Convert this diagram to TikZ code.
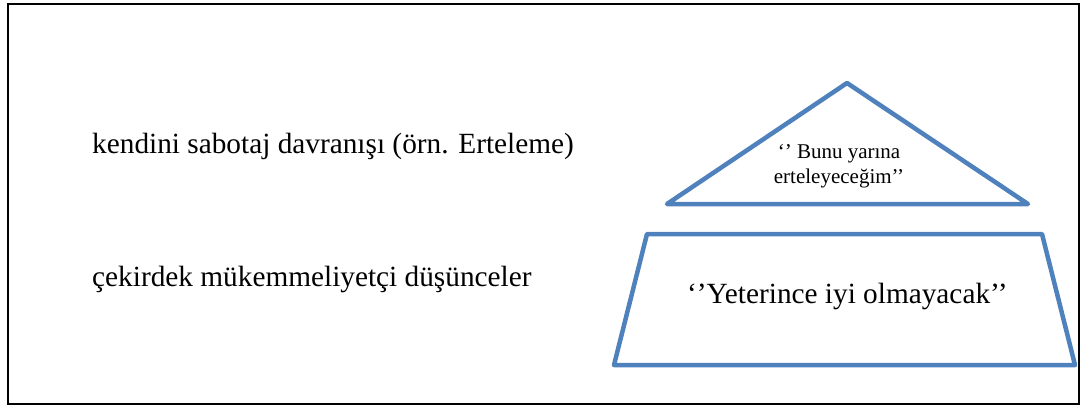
\documentclass[tikz,border=0pt]{standalone}
\usepackage{fontspec}
\setmainfont{Liberation Serif}
\definecolor{shapeblue}{HTML}{4F81BD}
\begin{document}
\begin{tikzpicture}[x=1pt,y=-1pt,
  shapeline/.style={draw=shapeblue,line width=4.5pt,line join=round},
  bigtext/.style={inner sep=0pt,anchor=base west,font=\fontsize{29.3}{36}\selectfont},
  smalltext/.style={inner sep=0pt,font=\fontsize{21}{25}\selectfont,align=center}]
\useasboundingbox (0,0) rectangle (1085,408);
\draw[line width=2pt] (8,4) rectangle (1079,404);
% triangle
\coordinate (tA) at (847,83);
\coordinate (tL) at (667,204);
\coordinate (tR) at (1028,204);
\draw[shapeline] (tA) -- (tR) -- (tL) -- cycle;
% trapezoid
\coordinate (pTL) at (647,234);
\coordinate (pTR) at (1042,234);
\coordinate (pBR) at (1075,365);
\coordinate (pBL) at (614,365);
\draw[shapeline] (pTL) -- (pTR) -- (pBR) -- (pBL) -- cycle;
% texts
\node[smalltext,anchor=base] (tri) at (839,183) {‘’ Bunu yarına\\erteleyeceğim’’};
\node[bigtext] (trap) at (687,303) {‘’Yeterince iyi olmayacak’’};
\node[bigtext] (lab1) at (92,153) {kendini sabotaj davranışı (örn. Erteleme)};
\node[bigtext] (lab2) at (92,286) {çekirdek mükemmeliyetçi düşünceler};
\end{tikzpicture}
\end{document}
